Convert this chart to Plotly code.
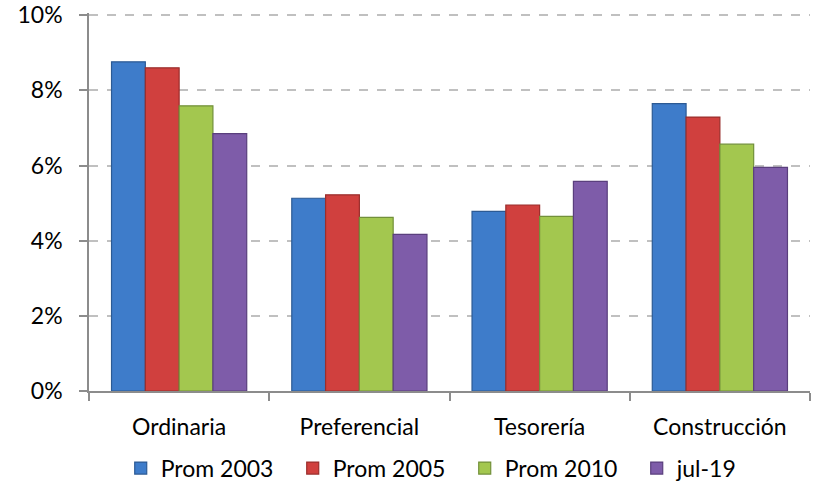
import plotly.graph_objects as go

categories = ["Ordinaria", "Preferencial", "Tesorería", "Construcción"]
series_names = ["Prom 2003", "Prom 2005", "Prom 2010", "jul-19"]
prom_2003 = [8.76, 5.13, 4.78, 7.65]
prom_2005 = [8.60, 5.22, 4.95, 7.29]
prom_2010 = [7.59, 4.62, 4.65, 6.57]
jul_19 = [6.85, 4.17, 5.58, 5.95]
y_ticks = [0, 2, 4, 6, 8, 10]
y_tick_labels = ["0%", "2%", "4%", "6%", "8%", "10%"]

colors = ["#3E7CCA", "#D0403E", "#A3C74F", "#7E5CA9"]
edges = ["#2C5A94", "#9A2E2C", "#72903A", "#5A3F7D"]
values = [prom_2003, prom_2005, prom_2010, jul_19]

fig = go.Figure()
for name, vals, c, e in zip(series_names, values, colors, edges):
    fig.add_trace(go.Bar(
        x=categories, y=vals, name=name,
        marker=dict(color=c, line=dict(color=e, width=1.2)),
    ))

font = "Lato, 'Open Sans', sans-serif"
fig.update_layout(
    width=817, height=483,
    margin=dict(l=89, r=7, t=13, b=92, autoexpand=False),
    paper_bgcolor="white", plot_bgcolor="white",
    barmode="group", bargap=0.25, bargroupgap=0,
    font=dict(family=font, size=23, color="#000000"),
    showlegend=True,
    legend=dict(orientation="h", x=0.044, xanchor="left", y=-0.204, yanchor="middle",
                entrywidth=127, entrywidthmode="pixels", itemwidth=30,
                font=dict(size=23), traceorder="normal"),
    xaxis=dict(showline=True, linecolor="#8C8C8C", linewidth=1.5,
               ticks="outside", tickson="boundaries", ticklen=8, tickcolor="#8C8C8C",
               tickwidth=1.5, showgrid=False, ticklabelstandoff=15, automargin=False,
               tickfont=dict(size=23)),
    yaxis=dict(range=[0, 10.06], tickvals=y_ticks, ticktext=y_tick_labels,
               showline=True, linecolor="#8C8C8C", linewidth=1.5,
               ticks="outside", ticklen=8, tickcolor="#8C8C8C", tickwidth=1.5,
               showgrid=True, gridcolor="#C0C0C0", griddash="dash", gridwidth=1.5,
               zeroline=False, ticklabelstandoff=12, automargin=False,
               ticklabeloverflow="allow", tickfont=dict(size=23)),
)

fig.write_html("out.html", config={"displayModeBar": False},
               post_script="document.body.style.margin='0px';")
